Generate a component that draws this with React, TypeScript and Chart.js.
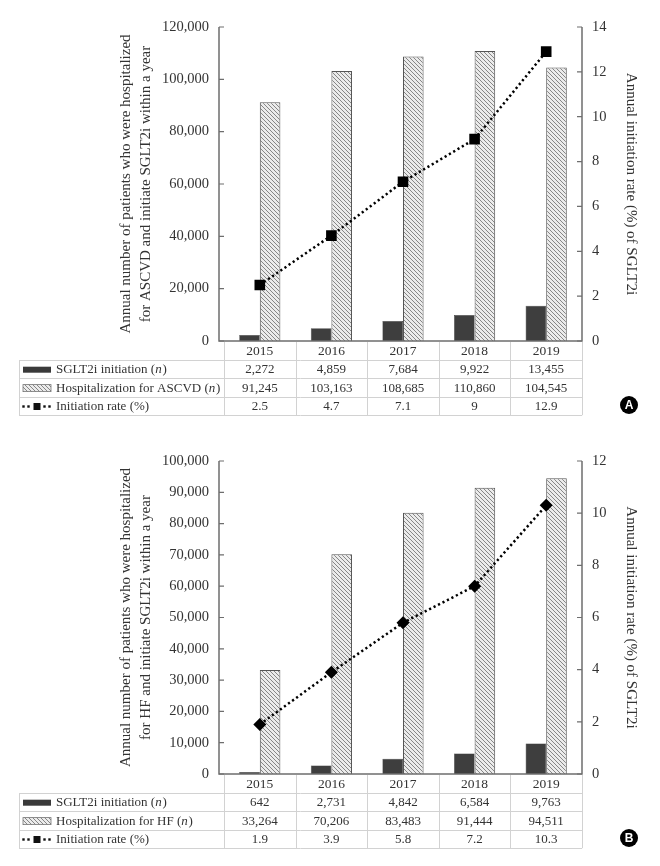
import React, { useEffect, useRef } from 'react';
import { Chart, registerables } from 'chart.js';

Chart.register(...registerables);

const years = ['2015', '2016', '2017', '2018', '2019'];

// Panel A (ASCVD)
const ascvdInitiation = [2272, 4859, 7684, 9922, 13455];
const ascvdHospitalization = [91245, 103163, 108685, 110860, 104545];
const ascvdRate = [2.5, 4.7, 7.1, 9, 12.9];

// Panel B (HF)
const hfInitiation = [642, 2731, 4842, 6584, 9763];
const hfHospitalization = [33264, 70206, 83483, 91444, 94511];
const hfRate = [1.9, 3.9, 5.8, 7.2, 10.3];

const SERIF = '"Liberation Serif", "Times New Roman", serif';
const TEXT = '#333333';
const CANVAS_W = 660;
const CANVAS_H = 433;

type PanelCfg = {
  initiation: number[];
  hosp: number[];
  rate: number[];
  leftMax: number;
  leftStep: number;
  rightMax: number;
  rightStep: number;
  marker: 'rect' | 'rectRot';
  markerRadius: number;
  titleLines: string[];
  rightTitle: string;
  hospLabel: string;
  badge: string;
  topPad: number;
};

const fmt = (n: number) => n.toLocaleString('en-US');

function makeHatch(ctx: CanvasRenderingContext2D): CanvasPattern | string {
  const s = 4;
  const c = document.createElement('canvas');
  c.width = s;
  c.height = s;
  const g = c.getContext('2d');
  if (!g) return '#c4c4c4';
  g.fillStyle = '#ebebeb';
  g.fillRect(0, 0, s, s);
  g.strokeStyle = '#7a7a7a';
  g.lineWidth = 0.9;
  for (const o of [-s, 0, s]) {
    g.beginPath();
    g.moveTo(o, 0);
    g.lineTo(o + s, s);
    g.stroke();
  }
  return ctx.createPattern(c, 'repeat') || '#c4c4c4';
}

function decorPlugin(cfg: PanelCfg, hatch: CanvasPattern | string) {
  return {
    id: 'panelDecor',
    afterDraw(chart: any) {
      const ctx: CanvasRenderingContext2D = chart.ctx;
      const { left: L, right: R, top: T, bottom: B } = chart.chartArea;
      const xS = chart.scales.x;
      const yS = chart.scales.y;
      const y1 = chart.scales.y1;
      const axL = L - 5;
      ctx.save();

      // ---- table grid ----
      const tTop = B + 19;
      const rowH = 18.4;
      const tBot = tTop + 3 * rowH;
      const tLeft = 19;
      ctx.strokeStyle = '#d2d2d2';
      ctx.lineWidth = 1;
      ctx.beginPath();
      for (let k = 0; k <= 3; k++) {
        const yy = Math.round(tTop + k * rowH) + 0.5;
        ctx.moveTo(tLeft, yy);
        ctx.lineTo(R, yy);
      }
      ctx.moveTo(tLeft + 0.5, tTop);
      ctx.lineTo(tLeft + 0.5, tBot);
      const centers = years.map((_, i) => xS.getPixelForValue(i));
      const half = (centers[1] - centers[0]) / 2;
      const bounds = [centers[0] - half, ...centers.map((c) => c + half)];
      bounds.forEach((b) => {
        const xx = Math.round(b) + 0.5;
        ctx.moveTo(xx, B + 1);
        ctx.lineTo(xx, tBot);
      });
      ctx.stroke();

      // ---- axes ----
      ctx.strokeStyle = '#6e6e6e';
      ctx.lineWidth = 1.5;
      ctx.beginPath();
      ctx.moveTo(axL, T);
      ctx.lineTo(axL, B);
      ctx.lineTo(R, B);
      ctx.lineTo(R, T);
      ctx.stroke();
      ctx.lineWidth = 1.2;
      ctx.beginPath();
      yS.ticks.forEach((t: any) => {
        const p = yS.getPixelForValue(t.value);
        ctx.moveTo(axL, p);
        ctx.lineTo(axL + 5, p);
      });
      y1.ticks.forEach((t: any) => {
        const p = y1.getPixelForValue(t.value);
        ctx.moveTo(R - 5, p);
        ctx.lineTo(R, p);
      });
      ctx.stroke();

      // ---- axis titles ----
      const midY = (T + B) / 2;
      ctx.fillStyle = TEXT;
      ctx.font = `15px ${SERIF}`;
      ctx.textAlign = 'center';
      ctx.textBaseline = 'middle';
      ctx.save();
      ctx.translate(126, midY);
      ctx.rotate(-Math.PI / 2);
      cfg.titleLines.forEach((line, i) => ctx.fillText(line, 0, i * 20));
      ctx.restore();
      ctx.save();
      ctx.translate(631, midY);
      ctx.rotate(Math.PI / 2);
      ctx.fillText(cfg.rightTitle, 0, 0);
      ctx.restore();

      // ---- table rows ----
      const rows = [
        {
          kind: 'dark',
          parts: [['SGLT2i initiation (', false], ['n', true], [')', false]] as [string, boolean][],
          values: cfg.initiation.map(fmt),
        },
        {
          kind: 'hatch',
          parts: [[cfg.hospLabel + ' (', false], ['n', true], [')', false]] as [string, boolean][],
          values: cfg.hosp.map(fmt),
        },
        {
          kind: 'line',
          parts: [['Initiation rate (%)', false]] as [string, boolean][],
          values: cfg.rate.map((v) => String(v)),
        },
      ];
      rows.forEach((row, r) => {
        const cy = tTop + r * rowH + rowH / 2 + 0.5;
        if (row.kind === 'dark') {
          ctx.fillStyle = '#3a3a3a';
          ctx.fillRect(23, cy - 3, 28, 6);
        } else if (row.kind === 'hatch') {
          ctx.fillStyle = hatch as any;
          ctx.fillRect(23, cy - 3.5, 28, 7);
          ctx.strokeStyle = '#777';
          ctx.lineWidth = 0.8;
          ctx.strokeRect(23, cy - 3.5, 28, 7);
        } else {
          ctx.fillStyle = '#111';
          [23.5, 28.5, 44.5, 49.5].forEach((dx) => ctx.fillRect(dx - 1.2, cy - 1.2, 2.4, 2.4));
          ctx.fillRect(33.5, cy - 3.5, 7, 7);
        }
        ctx.fillStyle = TEXT;
        ctx.textAlign = 'left';
        ctx.textBaseline = 'middle';
        let x = 56;
        row.parts.forEach(([txt, italic]) => {
          ctx.font = `${italic ? 'italic ' : ''}13px ${SERIF}`;
          ctx.fillText(txt, x, cy);
          x += ctx.measureText(txt).width + (italic ? 0.8 : 0);
        });
        ctx.font = `13px ${SERIF}`;
        ctx.textAlign = 'center';
        row.values.forEach((v, i) => ctx.fillText(v, centers[i], cy));
      });

      // ---- badge ----
      const bx = 629;
      const by = B + 64;
      ctx.fillStyle = '#000';
      ctx.beginPath();
      ctx.arc(bx, by, 9, 0, Math.PI * 2);
      ctx.fill();
      ctx.fillStyle = '#fff';
      ctx.font = 'bold 12px "Liberation Sans", Arial, sans-serif';
      ctx.textAlign = 'center';
      ctx.textBaseline = 'middle';
      ctx.fillText(cfg.badge, bx, by + 0.5);

      ctx.restore();
    },
  };
}

function Panel({ cfg, top }: { cfg: PanelCfg; top: number }) {
  const ref = useRef<HTMLCanvasElement | null>(null);
  useEffect(() => {
    const canvas = ref.current;
    if (!canvas) return;
    const ctx = canvas.getContext('2d');
    if (!ctx) return;
    const hatch = makeHatch(ctx);
    const chart = new Chart(ctx, {
      type: 'bar',
      data: {
        labels: years,
        datasets: [
          {
            type: 'line',
            label: 'Initiation rate (%)',
            data: cfg.rate,
            yAxisID: 'y1',
            borderColor: '#000',
            borderWidth: 2.5,
            borderDash: [2.2, 2.8],
            borderCapStyle: 'butt',
            fill: false,
            tension: 0,
            pointStyle: cfg.marker,
            pointRadius: cfg.markerRadius,
            pointBackgroundColor: '#000',
            pointBorderColor: '#000',
            pointBorderWidth: 0,
            order: 0,
          } as any,
          {
            type: 'bar',
            label: 'SGLT2i initiation (n)',
            data: cfg.initiation,
            yAxisID: 'y',
            backgroundColor: '#3e3e3e',
            borderColor: '#2e2e2e',
            borderWidth: 0.5,
            categoryPercentage: 0.575,
            barPercentage: 1,
            order: 1,
          } as any,
          {
            type: 'bar',
            label: cfg.hospLabel + ' (n)',
            data: cfg.hosp,
            yAxisID: 'y',
            backgroundColor: hatch as any,
            borderColor: '#555',
            borderWidth: 1,
            categoryPercentage: 0.575,
            barPercentage: 1,
            order: 1,
          } as any,
        ],
      },
      options: {
        responsive: false,
        animation: false,
        devicePixelRatio: 1,
        layout: { padding: { top: cfg.topPad, left: 0, right: 0, bottom: 0 } },
        plugins: {
          legend: { display: false },
          tooltip: { enabled: false },
        },
        scales: {
          x: {
            type: 'category',
            grid: { display: false, drawTicks: false },
            border: { display: false },
            ticks: {
              color: TEXT,
              font: { family: SERIF, size: 13.5 },
              padding: 2,
              maxRotation: 0,
              autoSkip: false,
            },
            afterFit: (s: any) => {
              s.height = CANVAS_H - 341;
            },
          },
          y: {
            type: 'linear',
            position: 'left',
            min: 0,
            max: cfg.leftMax,
            grid: { display: false, drawTicks: false },
            border: { display: false },
            ticks: {
              stepSize: cfg.leftStep,
              color: TEXT,
              font: { family: SERIF, size: 14.5 },
              padding: 15,
              callback: (v: any) => fmt(Number(v)),
            },
            afterFit: (s: any) => {
              s.width = 224;
            },
          },
          y1: {
            type: 'linear',
            position: 'right',
            min: 0,
            max: cfg.rightMax,
            grid: { display: false, drawTicks: false },
            border: { display: false },
            ticks: {
              stepSize: cfg.rightStep,
              color: TEXT,
              font: { family: SERIF, size: 14.5 },
              padding: 10,
              callback: (v: any) => String(v),
            },
            afterFit: (s: any) => {
              s.width = CANVAS_W - 582;
            },
          },
        },
      } as any,
      plugins: [decorPlugin(cfg, hatch) as any],
    });
    return () => chart.destroy();
  }, [cfg]);
  return (
    <canvas
      ref={ref}
      width={CANVAS_W}
      height={CANVAS_H}
      style={{ position: 'absolute', left: 0, top, width: CANVAS_W, height: CANVAS_H }}
    />
  );
}

const panelA: PanelCfg = {
  initiation: ascvdInitiation,
  hosp: ascvdHospitalization,
  rate: ascvdRate,
  leftMax: 120000,
  leftStep: 20000,
  rightMax: 14,
  rightStep: 2,
  marker: 'rect',
  markerRadius: 7.5,
  titleLines: [
    'Annual number of patients who were hospitalized',
    'for ASCVD and initiate SGLT2i within a year',
  ],
  rightTitle: 'Annual initiation rate (%) of SGLT2i',
  hospLabel: 'Hospitalization for ASCVD',
  badge: 'A',
  topPad: 27,
};

const panelB: PanelCfg = {
  initiation: hfInitiation,
  hosp: hfHospitalization,
  rate: hfRate,
  leftMax: 100000,
  leftStep: 10000,
  rightMax: 12,
  rightStep: 2,
  marker: 'rectRot',
  markerRadius: 6.5,
  titleLines: [
    'Annual number of patients who were hospitalized',
    'for HF and initiate SGLT2i within a year',
  ],
  rightTitle: 'Annual initiation rate (%) of SGLT2i',
  hospLabel: 'Hospitalization for HF',
  badge: 'B',
  topPad: 28,
};

export default function App() {
  return (
    <div
      style={{
        position: 'absolute',
        left: 0,
        top: 0,
        width: 660,
        height: 866,
        background: '#ffffff',
        overflow: 'hidden',
      }}
    >
      <Panel cfg={panelA} top={0} />
      <Panel cfg={panelB} top={433} />
    </div>
  );
}
